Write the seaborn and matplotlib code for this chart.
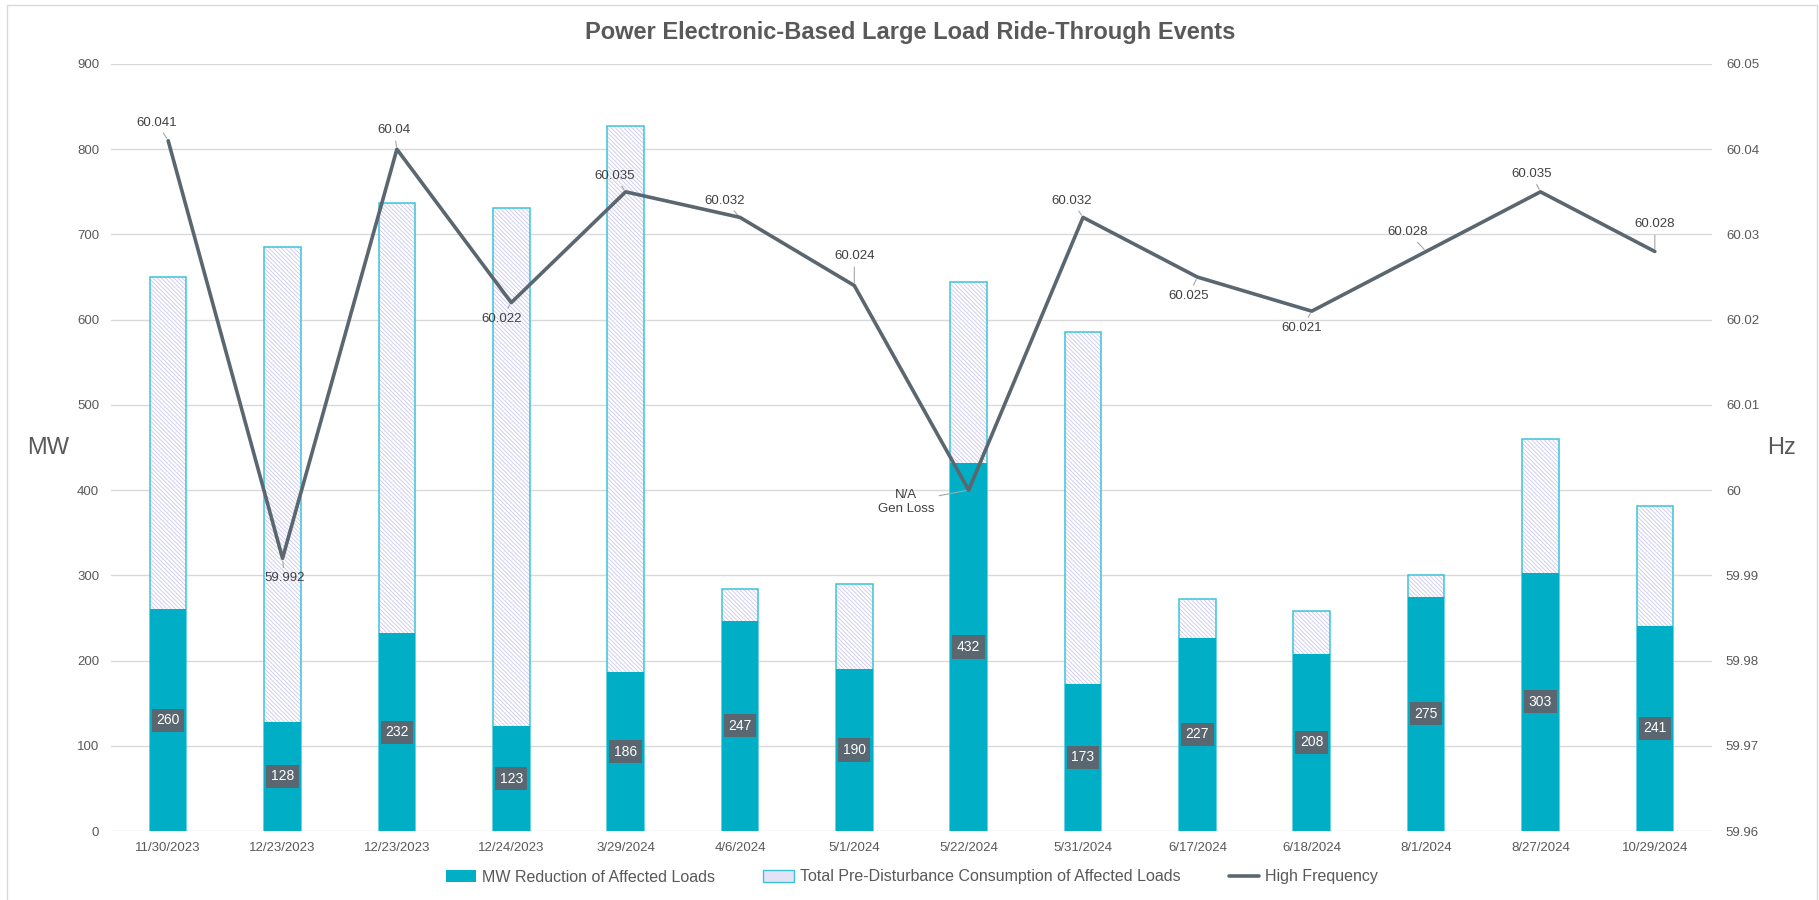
import matplotlib
matplotlib.use('Agg')
import matplotlib.pyplot as plt
import numpy as np
import pandas as pd
import seaborn as sns
from matplotlib.patches import Patch, Rectangle
from matplotlib.lines import Line2D

sns.set_theme(style='white')
plt.rcParams['font.family'] = ['Liberation Sans', 'DejaVu Sans']

# event data (two events share the date 12/23/2023, so bars are keyed by index)
dates = ['11/30/2023', '12/23/2023', '12/23/2023', '12/24/2023', '3/29/2024',
         '4/6/2024', '5/1/2024', '5/22/2024', '5/31/2024', '6/17/2024',
         '6/18/2024', '8/1/2024', '8/27/2024', '10/29/2024']
mw_reduction = [260, 128, 232, 123, 186, 247, 190, 432, 173, 227, 208, 275, 303, 241]
total_consumption = [650, 685, 737, 731, 827, 284, 290, 644, 585, 272, 258, 300, 460, 381]
high_freq = [60.041, 59.992, 60.04, 60.022, 60.035, 60.032, 60.024, 60.0,
             60.032, 60.025, 60.021, 60.028, 60.035, 60.028]
freq_labels = ['60.041', '59.992', '60.04', '60.022', '60.035', '60.032', '60.024',
               'N/A\nGen Loss', '60.032', '60.025', '60.021', '60.028', '60.035', '60.028']

# label offsets (points) for the frequency data labels
label_offsets = [(-8, 13), (1.5, -14.5), (-2, 13.5), (-7, -11.5), (-8, 11.5),
                 (-11, 12), (0, 21), (-45, -8.5), (-8, 12), (-6.5, -13.5),
                 (-7, -12), (-13, 14), (-6.5, 13), (0, 19.5)]

df = pd.DataFrame({'event': np.arange(len(dates)), 'date': dates,
                   'reduction': mw_reduction, 'total': total_consumption,
                   'freq': high_freq})

teal = '#00AFC6'
cyan_edge = '#3CC3DA'
hatch_col = '#C9C7EC'
line_col = '#5B6770'
text_col = '#595959'
grid_col = '#D9D9D9'
hatch = '\\' * 8

plt.rcParams['hatch.color'] = hatch_col
plt.rcParams['hatch.linewidth'] = 0.6

fig = plt.figure(figsize=(18.19, 9.0), dpi=100)
ax = fig.add_axes([111 / 1819, 1 - 831 / 900, (1712 - 111) / 1819, (831 - 64) / 900])

bw = 0.32
# hatched total consumption
sns.barplot(data=df, x='event', y='total', color='white', hatch=hatch,
            edgecolor=hatch_col, linewidth=0, width=bw, errorbar=None,
            saturation=1, ax=ax, zorder=2)
# outline of the total bar
sns.barplot(data=df, x='event', y='total', color=cyan_edge, fill=False,
            linewidth=1.1, width=bw, errorbar=None, saturation=1, ax=ax, zorder=3)
# MW reduction
sns.barplot(data=df, x='event', y='reduction', color=teal, linewidth=0,
            width=bw, errorbar=None, saturation=1, ax=ax, zorder=4)
ax.bar_label(ax.containers[-1], labels=[str(v) for v in mw_reduction],
             label_type='center', color='white', fontsize=10, zorder=6,
             bbox=dict(boxstyle='square,pad=0.33', fc=line_col, ec='none'))

ax.set_ylim(0, 900)
ax.set_yticks(np.arange(0, 901, 100))
ax.set_xlim(-0.5, len(dates) - 0.5)
ax.set_xticks(df['event'])
ax.set_xticklabels(dates)
ax.grid(axis='y', color=grid_col, lw=1)
ax.grid(axis='x', visible=False)
ax.set_axisbelow(True)
ax.tick_params(axis='y', length=0, pad=8.5, labelsize=9.5, labelcolor=text_col)
ax.tick_params(axis='x', length=0, pad=8, labelsize=9.5, labelcolor=text_col)
ax.set_xlabel('')
ax.set_ylabel('')
for s in ax.spines.values():
    s.set_visible(False)

# high frequency on secondary axis
ax2 = ax.twinx()
sns.lineplot(data=df, x='event', y='freq', color=line_col, lw=2.6, ax=ax2,
             zorder=5)
ax2.set_ylim(59.96, 60.05)
hz_ticks = np.round(np.arange(59.96, 60.0501, 0.01), 2)
ax2.set_yticks(hz_ticks)
ax2.set_yticklabels([f'{t:g}' for t in hz_ticks])
ax2.tick_params(axis='y', length=0, pad=10, labelsize=9.5, labelcolor=text_col)
ax2.set_xlim(-0.5, len(dates) - 0.5)
ax2.set_xlabel('')
ax2.set_ylabel('')
ax2.grid(False)
for s in ax2.spines.values():
    s.set_visible(False)

for i, (lab, off) in enumerate(zip(freq_labels, label_offsets)):
    ax2.annotate(lab, xy=(i, high_freq[i]), xytext=off, textcoords='offset points',
                 ha='center', va='center', multialignment='center',
                 fontsize=9.5, color='#404040',
                 arrowprops=dict(arrowstyle='-', color='#A6A6A6', lw=0.8,
                                 shrinkA=1, shrinkB=2))

fig.text(910 / 1819, 1 - 32 / 900, 'Power Electronic-Based Large Load Ride-Through Events',
         ha='center', va='center', fontsize=17, fontweight='bold', color=text_col)
fig.text(48 / 1819, 1 - 448 / 900, 'MW', ha='center', va='center', fontsize=17,
         color=text_col)
fig.text(1781 / 1819, 1 - 448 / 900, 'Hz', ha='center', va='center', fontsize=17,
         color=text_col)

handles = [Patch(facecolor=teal, edgecolor='none'),
           Patch(facecolor='#E4E3F5', edgecolor=cyan_edge, lw=1),
           Line2D([], [], color=line_col, lw=2.6)]
labels = ['MW Reduction of Affected Loads',
          'Total Pre-Disturbance Consumption of Affected Loads',
          'High Frequency']
fig.legend(handles, labels, loc='center', bbox_to_anchor=(912 / 1819, 1 - 877 / 900),
           ncol=3, frameon=False, fontsize=11.5, labelcolor=text_col,
           handlelength=1.9, handleheight=0.7, handletextpad=0.4, columnspacing=3.0)

# chart area border
fig.add_artist(Rectangle((7 / 1819, -0.01), (1817 - 7) / 1819, 1.01 - 5 / 900,
                         transform=fig.transFigure, fill=False, ec=grid_col, lw=1))

fig.savefig('out.png', dpi=100)
